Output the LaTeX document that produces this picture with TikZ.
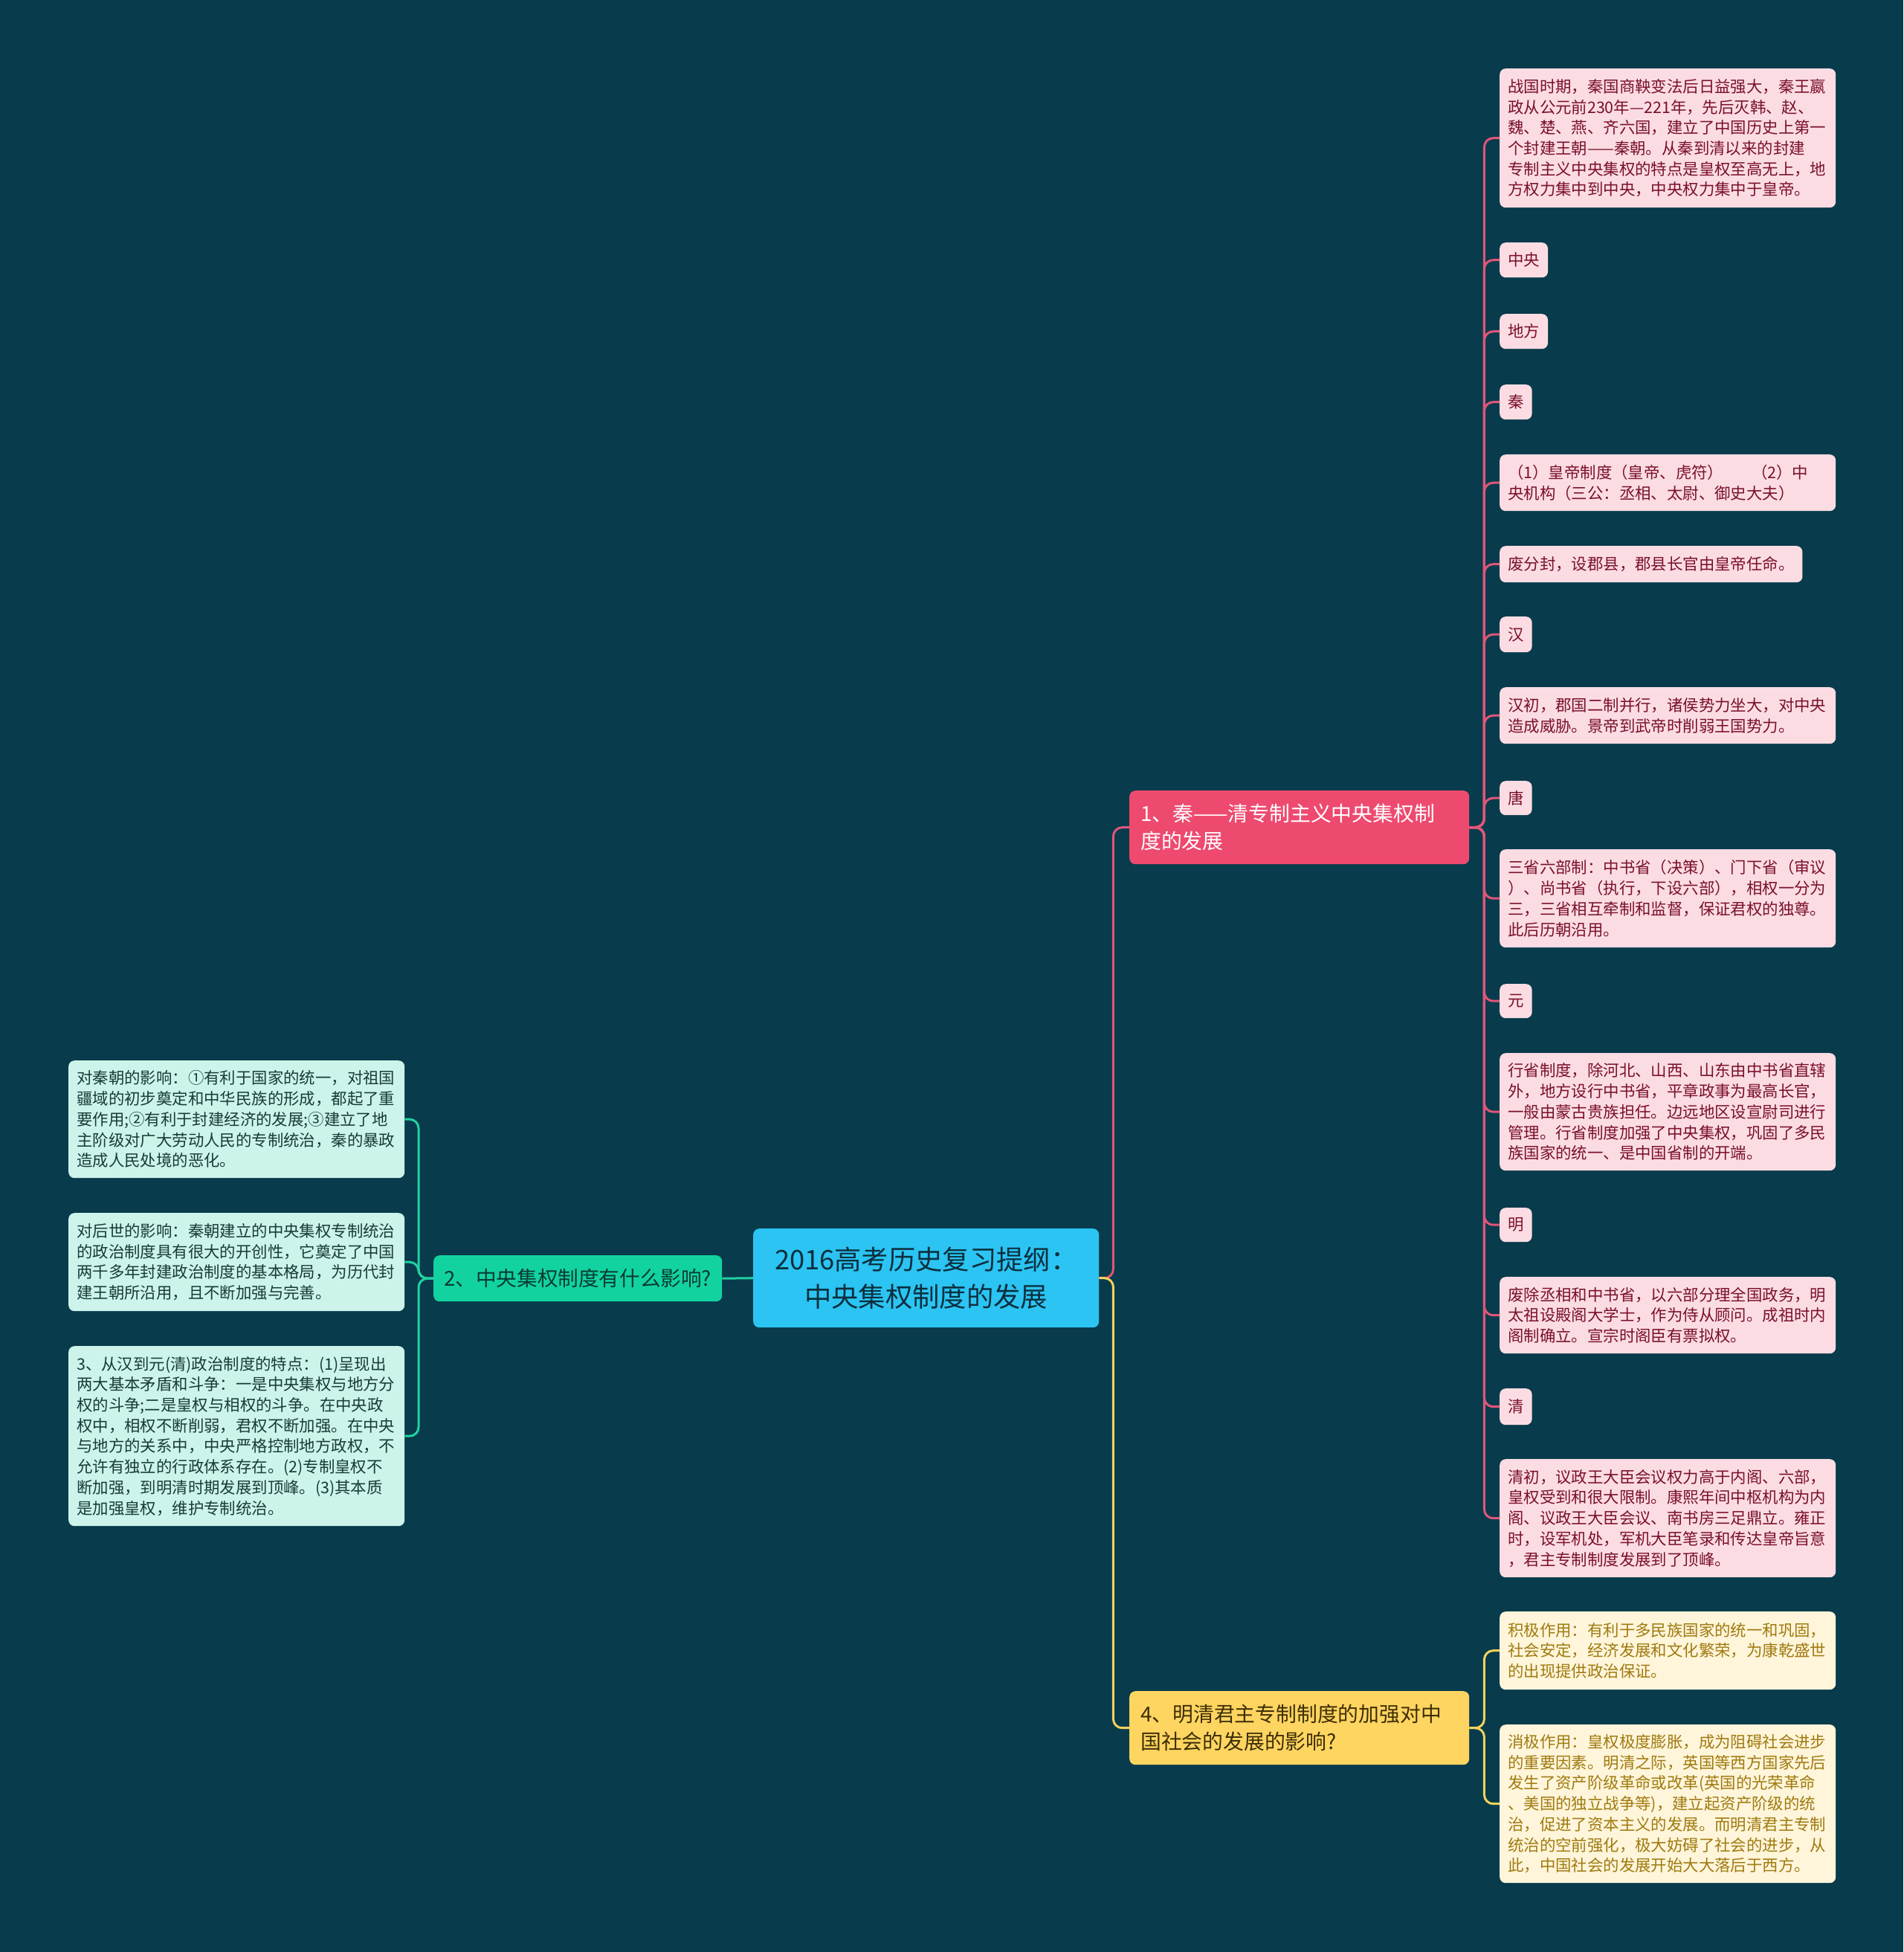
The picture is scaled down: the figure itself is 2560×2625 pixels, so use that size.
\documentclass[tikz,border=0pt]{standalone}
\usepackage{fontspec}
\setmainfont{Noto Sans CJK SC}
\definecolor{bg}{HTML}{083B4C}
\definecolor{rootfill}{HTML}{2BC4F3}
\definecolor{roottext}{HTML}{0B2F3D}
\definecolor{onefill}{HTML}{EE4A6F}
\definecolor{fourfill}{HTML}{FFD561}
\definecolor{fourtext}{HTML}{3D2E05}
\definecolor{twofill}{HTML}{12D3A0}
\definecolor{twotext}{HTML}{0A3A30}
\definecolor{pkfill}{HTML}{FBDCE3}
\definecolor{pktext}{HTML}{7A0F2C}
\definecolor{ylfill}{HTML}{FEF5DA}
\definecolor{yltext}{HTML}{A07A0F}
\definecolor{mnfill}{HTML}{CDF4EA}
\definecolor{mntext}{HTML}{173B38}
\definecolor{pkline}{HTML}{E05679}
\definecolor{ylline}{HTML}{F4D25C}
\definecolor{grline}{HTML}{22D1A0}
\tikzset{
  base/.style={anchor=north west, rounded corners=8pt, inner ysep=0pt, inner xsep=11pt, align=left},
  small/.style={base, font=\fontsize{21.4}{27.7}\selectfont},
  pk/.style={small, fill=pkfill, text=pktext},
  pkw/.style={pk, text width=430pt},
  ylw/.style={small, fill=ylfill, text=yltext, text width=430pt},
  mnw/.style={small, fill=mnfill, text=mntext, text width=430pt},
  mainbox/.style={base, inner xsep=15pt, font=\fontsize{27.8}{37}\selectfont, text width=427pt, minimum height=99pt},
  conn/.style={line width=3pt, rounded corners=12pt},
}
\begin{document}
\begin{tikzpicture}[x=1pt,y=-1pt]
\useasboundingbox (0,0) rectangle (2560,2625);
\fill[bg] (0,0) rectangle (2560,2625);

% root
\node[base, anchor=north west, fill=rootfill, text=roottext, align=center, inner xsep=20pt,
  text width=425pt, minimum height=133pt, font=\fontsize{36.3}{50}\selectfont] (root) at (1013,1652)
  {2016高考历史复习提纲：\\中央集权制度的发展};

% main branches
\node[mainbox, fill=onefill, text=white] (n1) at (1519,1063) {1、秦——清专制主义中央集权制\\度的发展};
\node[mainbox, fill=fourfill, text=fourtext] (n4) at (1519,2274) {4、明清君主专制制度的加强对中\\国社会的发展的影响?};
\node[base, fill=twofill, text=twotext, inner xsep=14pt, minimum width=388pt, minimum height=62pt,
  font=\fontsize{27.6}{37}\selectfont] (n2) at (583,1688) {2、中央集权制度有什么影响?};

% pink children
\node[pkw, minimum height=187pt] (r1) at (2017,92) {战国时期，秦国商鞅变法后日益强大，秦王嬴\\政从公元前230年—221年，先后灭韩、赵、\\魏、楚、燕、齐六国，建立了中国历史上第一\\个封建王朝——秦朝。从秦到清以来的封建\\专制主义中央集权的特点是皇权至高无上，地\\方权力集中到中央，中央权力集中于皇帝。};
\node[pk, minimum height=47pt] (r2) at (2017,326) {中央};
\node[pk, minimum height=47pt] (r3) at (2017,422) {地方};
\node[pk, minimum height=47pt] (r4) at (2017,517) {秦};
\node[pkw, minimum height=76pt] (r5) at (2017,611) {（1）皇帝制度（皇帝、虎符）\hspace*{38pt}（2）中\\央机构（三公：丞相、太尉、御史大夫）};
\node[pk, minimum height=49pt] (r6) at (2017,734) {废分封，设郡县，郡县长官由皇帝任命。};
\node[pk, minimum height=48pt] (r7) at (2017,829) {汉};
\node[pkw, minimum height=76pt] (r8) at (2017,924) {汉初，郡国二制并行，诸侯势力坐大，对中央\\造成威胁。景帝到武帝时削弱王国势力。};
\node[pk, minimum height=46pt] (r9) at (2017,1050) {唐};
\node[pkw, minimum height=132pt] (r10) at (2017,1142) {三省六部制：中书省（决策）、门下省（审议\\）、尚书省（执行，下设六部），相权一分为\\三，三省相互牵制和监督，保证君权的独尊。\\此后历朝沿用。};
\node[pk, minimum height=46pt] (r11) at (2017,1323) {元};
\node[pkw, minimum height=158pt] (r12) at (2017,1416) {行省制度，除河北、山西、山东由中书省直辖\\外，地方设行中书省，平章政事为最高长官，\\一般由蒙古贵族担任。边远地区设宣尉司进行\\管理。行省制度加强了中央集权，巩固了多民\\族国家的统一、是中国省制的开端。};
\node[pk, minimum height=46pt] (r13) at (2017,1624) {明};
\node[pkw, minimum height=103pt] (r14) at (2017,1717) {废除丞相和中书省，以六部分理全国政务，明\\太祖设殿阁大学士，作为侍从顾问。成祖时内\\阁制确立。宣宗时阁臣有票拟权。};
\node[pk, minimum height=49pt] (r15) at (2017,1867) {清};
\node[pkw, minimum height=159pt] (r16) at (2017,1962) {清初，议政王大臣会议权力高于内阁、六部，\\皇权受到和很大限制。康熙年间中枢机构为内\\阁、议政王大臣会议、南书房三足鼎立。雍正\\时，设军机处，军机大臣笔录和传达皇帝旨意\\，君主专制制度发展到了顶峰。};

% yellow children
\node[ylw, minimum height=105pt] (y1) at (2017,2167) {积极作用：有利于多民族国家的统一和巩固，\\社会安定，经济发展和文化繁荣，为康乾盛世\\的出现提供政治保证。};
\node[ylw, minimum height=213pt] (y2) at (2017,2319) {消极作用：皇权极度膨胀，成为阻碍社会进步\\的重要因素。明清之际，英国等西方国家先后\\发生了资产阶级革命或改革(英国的光荣革命\\、美国的独立战争等)，建立起资产阶级的统\\治，促进了资本主义的发展。而明清君主专制\\统治的空前强化，极大妨碍了社会的进步，从\\此，中国社会的发展开始大大落后于西方。};

% mint children
\node[mnw, minimum height=158pt] (c1) at (92,1426) {对秦朝的影响：①有利于国家的统一，对祖国\\疆域的初步奠定和中华民族的形成，都起了重\\要作用;②有利于封建经济的发展;③建立了地\\主阶级对广大劳动人民的专制统治，秦的暴政\\造成人民处境的恶化。};
\node[mnw, minimum height=132pt] (c2) at (92,1631) {对后世的影响：秦朝建立的中央集权专制统治\\的政治制度具有很大的开创性，它奠定了中国\\两千多年封建政治制度的基本格局，为历代封\\建王朝所沿用，且不断加强与完善。};
\node[mnw, minimum height=242pt] (c3) at (92,1810) {3、从汉到元(清)政治制度的特点：(1)呈现出\\两大基本矛盾和斗争：一是中央集权与地方分\\权的斗争;二是皇权与相权的斗争。在中央政\\权中，相权不断削弱，君权不断加强。在中央\\与地方的关系中，中央严格控制地方政权，不\\允许有独立的行政体系存在。(2)专制皇权不\\断加强，到明清时期发展到顶峰。(3)其本质\\是加强皇权，维护专制统治。};

% connectors
\draw[conn, pkline] (root.east) -- ++(19,0) |- (n1.west);
\draw[conn, ylline] (root.east) -- ++(19,0) |- (n4.west);
\draw[conn, grline] (root.west) -- (n2.east);
\foreach \c in {r1,r2,r3,r4,r5,r6,r7,r8,r9,r10,r11,r12,r13,r14,r15,r16}
  \draw[conn, pkline] (n1.east) -- ++(20,0) |- (\c.west);
\foreach \c in {y1,y2}
  \draw[conn, ylline] (n4.east) -- ++(20,0) |- (\c.west);
\foreach \c in {c1,c2,c3}
  \draw[conn, grline] (n2.west) -- ++(-20,0) |- (\c.east);
\end{tikzpicture}
\end{document}
